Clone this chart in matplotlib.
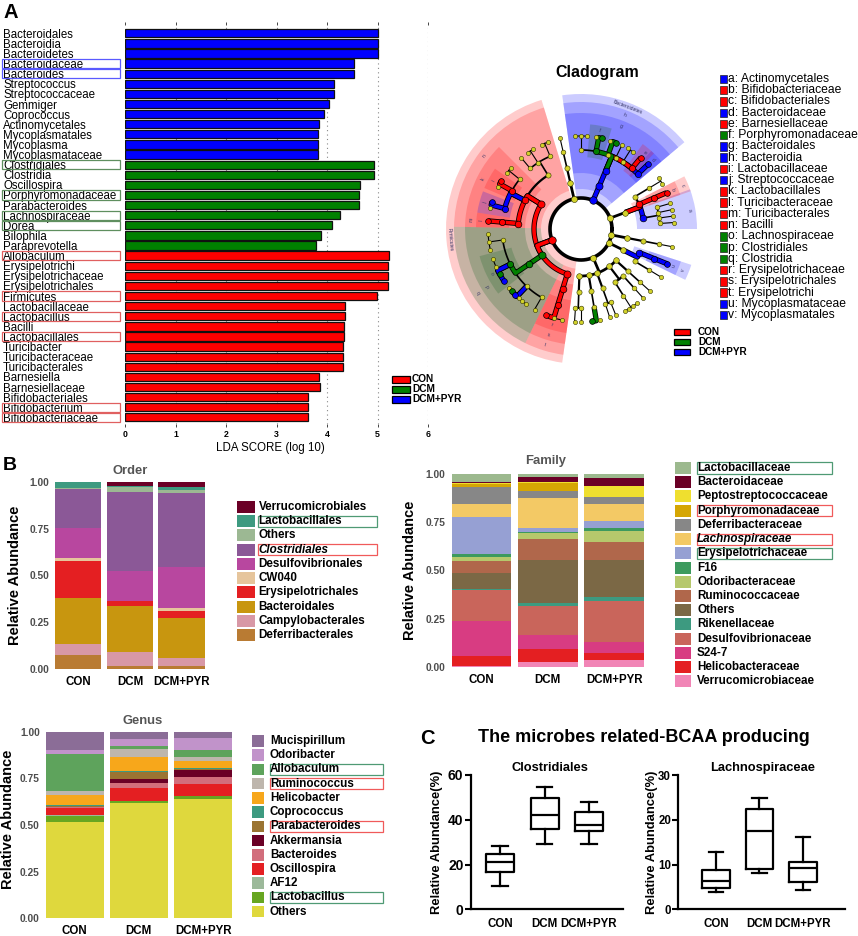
import numpy as np
import matplotlib
matplotlib.use('Agg')
import matplotlib.pyplot as plt
from matplotlib.patches import Rectangle, Wedge
import matplotlib.patheffects as pe
import matplotlib.transforms as mtransforms

plt.rcParams['font.family'] = ['Liberation Sans', 'DejaVu Sans']

W, H = 858, 936
fig = plt.figure(figsize=(W / 100, H / 100), dpi=100)

def px_axes(x0, y0, x1, y1):
    return fig.add_axes([x0 / W, 1 - y1 / H, (x1 - x0) / W, (y1 - y0) / H])

grp_color = {'CON': '#ff0000', 'DCM': '#008000', 'DCM+PYR': '#0000ff'}
groups = ['CON', 'DCM', 'DCM+PYR']

# ---------------- data: LDA ----------------
lda_names = ['Bacteroidales', 'Bacteroidia', 'Bacteroidetes', 'Bacteroidaceae', 'Bacteroides',
             'Streptococcus', 'Streptococcaceae', 'Gemmiger', 'Coprococcus', 'Actinomycetales',
             'Mycoplasmatales', 'Mycoplasma', 'Mycoplasmataceae',
             'Clostridiales', 'Clostridia', 'Oscillospira', 'Porphyromonadaceae', 'Parabacteroides',
             'Lachnospiraceae', 'Dorea', 'Bilophila', 'Paraprevotella',
             'Allobaculum', 'Erysipelotrichi', 'Erysipelotrichaceae', 'Erysipelotrichales', 'Firmicutes',
             'Lactobacillaceae', 'Lactobacillus', 'Bacilli', 'Lactobacillales', 'Turicibacter',
             'Turicibacteraceae', 'Turicibacterales', 'Barnesiella', 'Barnesiellaceae',
             'Bifidobacteriales', 'Bifidobacterium', 'Bifidobacteriaceae']
lda_scores = [5.00, 5.00, 5.00, 4.54, 4.54, 4.13, 4.14, 4.03, 3.94, 3.85, 3.82, 3.82, 3.82,
              4.94, 4.94, 4.65, 4.63, 4.63, 4.25, 4.10, 3.88, 3.78,
              5.22, 5.21, 5.21, 5.21, 4.99, 4.35, 4.35, 4.34, 4.34, 4.31, 4.31, 4.31,
              3.85, 3.86, 3.63, 3.63, 3.63]
lda_groups = ['DCM+PYR'] * 13 + ['DCM'] * 9 + ['CON'] * 17
lda_boxed = {'Bacteroidaceae': '#5a5aff', 'Bacteroides': '#5a5aff',
             'Clostridiales': '#5f8f5f', 'Porphyromonadaceae': '#5f8f5f',
             'Lachnospiraceae': '#5f8f5f', 'Dorea': '#5f8f5f',
             'Allobaculum': '#e06060', 'Firmicutes': '#e06060', 'Lactobacillus': '#e06060',
             'Lactobacillales': '#e06060', 'Bifidobacterium': '#e06060', 'Bifidobacteriaceae': '#e06060'}

# ---------------- data: cladogram (name, level, group, label, leaf angle) ----------------
clad_tree = [
    ('Bacteria', 0, None, None, None),
    ('Actinobacteria', 1, None, None, None),
    ('Actinobacteria_c', 2, None, None, None),
    ('Actinomycetales', 3, 'DCM+PYR', 'a', None),
    ('Corynebacteriaceae', 4, None, None, None), ('Corynebacterium', 5, None, None, 4),
    ('Micrococcaceae', 4, None, None, None), ('Rothia', 5, None, None, 8),
    ('Propionibacteriaceae', 4, None, None, None), ('Propionibacterium', 5, None, None, 12),
    ('Actinomycetaceae', 4, None, None, None), ('Actinomyces', 5, None, None, 16),
    ('Bifidobacteriales', 3, 'CON', 'c', None),
    ('Bifidobacteriaceae', 4, 'CON', 'b', None), ('Bifidobacterium', 5, 'CON', None, 23),
    ('Coriobacteriales', 3, None, None, None),
    ('Coriobacteriaceae', 4, None, None, None),
    ('Adlercreutzia', 5, None, None, 29), ('Collinsella', 5, None, None, 33),
    ('Bacteroidetes', 1, 'DCM+PYR', 'Bacteroidetes', None),
    ('Bacteroidia', 2, 'DCM+PYR', 'h', None),
    ('Bacteroidales', 3, 'DCM+PYR', 'g', None),
    ('Bacteroidaceae', 4, 'DCM+PYR', 'd', None), ('Bacteroides', 5, 'DCM+PYR', None, 44),
    ('Barnesiellaceae', 4, 'CON', 'e', None), ('Barnesiella', 5, 'CON', None, 50),
    ('Rikenellaceae', 4, None, None, None), ('Rikenella', 5, None, None, 56), ('Alistipes', 5, None, None, 60),
    ('S24-7', 4, None, None, None), ('S24-7 g', 5, None, None, 64),
    ('Paraprevotellaceae', 4, None, None, None), ('Paraprevotella', 5, 'DCM', None, 68),
    ('Prevotella_p', 5, None, None, 72),
    ('Porphyromonadaceae', 4, 'DCM', 'f', None), ('Parabacteroides', 5, 'DCM', None, 77),
    ('Porphyromonas', 5, None, None, 81),
    ('Prevotellaceae', 4, None, None, None), ('Prevotella', 5, None, None, 86),
    ('Prevotella_2', 5, None, None, 90), ('Prevotella_3', 5, None, None, 94),
    ('TM7', 1, None, None, None), ('TM7-3', 2, None, None, None), ('CW040', 3, None, None, None),
    ('F16', 4, None, None, None), ('F16 g', 5, None, None, 103),
    ('Firmicutes', 1, 'CON', 'Firmicutes', None),
    ('Bacilli', 2, 'CON', 'n', None),
    ('Bacillales', 3, None, None, None),
    ('Staphylococcaceae', 4, None, None, None), ('Staphylococcus', 5, None, None, 111),
    ('Jeotgalicoccus', 5, None, None, 115),
    ('Bacillaceae', 4, None, None, None), ('Bacillus', 5, None, None, 121), ('Bacillaceae g', 5, None, None, 125),
    ('Planococcaceae', 4, None, None, None), ('Planococcaceae g', 5, None, None, 130),
    ('Lactobacillales', 3, 'CON', 'k', None),
    ('Enterococcaceae', 4, None, None, None), ('Enterococcus', 5, None, None, 139),
    ('Vagococcus', 5, None, None, 143),
    ('Lactobacillaceae', 4, 'CON', 'i', None), ('Lactobacillus', 5, 'CON', None, 149),
    ('Pediococcus', 5, None, None, 153),
    ('Streptococcaceae', 4, 'DCM+PYR', 'j', None), ('Streptococcus', 5, 'DCM+PYR', None, 163),
    ('Lactococcus', 5, None, None, 167),
    ('Turicibacterales', 3, 'CON', 'm', None),
    ('Turicibacteraceae', 4, 'CON', 'l', None), ('Turicibacter', 5, 'CON', None, 175),
    ('Clostridia', 2, 'DCM', 'q', None),
    ('Clostridiales', 3, 'DCM', 'p', None),
    ('Clostridiaceae', 4, None, None, None), ('Clostridium', 5, None, None, 183),
    ('SMB53', 5, None, None, 188), ('Candidatus Arthromitus', 5, None, None, 193),
    ('Lachnospiraceae', 4, 'DCM', 'o', None), ('Blautia', 5, None, None, 199),
    ('Roseburia', 5, None, None, 204), ('Dorea', 5, 'DCM', None, 209),
    ('Coprococcus', 5, 'DCM+PYR', None, 214),
    ('Ruminococcaceae', 4, None, None, None), ('Faecalibacterium', 5, None, None, 219),
    ('Oscillospira', 5, 'DCM', None, 222), ('Gemmiger', 5, 'DCM+PYR', None, 225),
    ('Ruminococcus', 5, None, None, 228), ('Anaerotruncus', 5, None, None, 231),
    ('Butyricicoccus', 5, None, None, 234),
    ('Peptostreptococcaceae', 4, None, None, None), ('Peptostreptococcaceae g', 5, None, None, 240),
    ('Erysipelotrichi', 2, 'CON', 't', None),
    ('Erysipelotrichales', 3, 'CON', 's', None),
    ('Erysipelotrichaceae', 4, 'CON', 'r', None), ('Allobaculum', 5, 'CON', None, 248),
    ('Coprobacillus', 5, None, None, 253), ('Erysipelotrichaceae g', 5, None, None, 258),
    ('Proteobacteria', 1, None, None, None),
    ('Betaproteobacteria', 2, None, None, None), ('Burkholderiales', 3, None, None, None),
    ('Alcaligenaceae', 4, None, None, None), ('Sutterella', 5, None, None, 266),
    ('Oxalobacteraceae', 4, None, None, None), ('Oxalobacter', 5, None, None, 270),
    ('Deltaproteobacteria', 2, None, None, None), ('Desulfovibrionales', 3, None, None, None),
    ('Desulfovibrionaceae', 4, None, None, None), ('Bilophila', 5, 'DCM', None, 277),
    ('Desulfovibrio', 5, None, None, 282),
    ('Epsilonproteobacteria', 2, None, None, None), ('Campylobacterales', 3, None, None, None),
    ('Helicobacteraceae', 4, None, None, None), ('Helicobacter', 5, None, None, 288),
    ('Campylobacteraceae', 4, None, None, None), ('Campylobacter', 5, None, None, 292),
    ('Gammaproteobacteria', 2, None, None, None), ('Enterobacteriales', 3, None, None, None),
    ('Enterobacteriaceae', 4, None, None, None), ('Escherichia', 5, None, None, 298),
    ('Klebsiella', 5, None, None, 301), ('Proteus', 5, None, None, 304), ('Serratia', 5, None, None, 307),
    ('Pasteurellales', 3, None, None, None), ('Pasteurellaceae', 4, None, None, None),
    ('Haemophilus', 5, None, None, 312),
    ('Alphaproteobacteria', 2, None, None, None), ('RF32', 3, None, None, None),
    ('RF32 f', 4, None, None, None), ('RF32 g', 5, None, None, 318),
    ('Tenericutes', 1, None, None, None), ('Mollicutes', 2, None, None, None),
    ('RF39', 3, None, None, None), ('RF39 f', 4, None, None, None), ('RF39 g', 5, None, None, 329),
    ('Mycoplasmatales', 3, 'DCM+PYR', 'v', None),
    ('Mycoplasmataceae', 4, 'DCM+PYR', 'u', None), ('Mycoplasma', 5, 'DCM+PYR', None, 338),
    ('Deferribacteres', 1, None, None, None), ('Deferribacteres_c', 2, None, None, None),
    ('Deferribacterales', 3, None, None, None), ('Deferribacteraceae', 4, None, None, None),
    ('Mucispirillum', 5, None, None, 349),
]

# ---------------- data: stacked bars ----------------
order_taxa = ['Verrucomicrobiales', 'Lactobacillales', 'Others', 'Clostridiales', 'Desulfovibrionales',
              'CW040', 'Erysipelotrichales', 'Bacteroidales', 'Campylobacterales', 'Deferribacterales']
order_con = [0.000, 0.032, 0.009, 0.206, 0.162, 0.012, 0.199, 0.243, 0.061, 0.076]
order_dcm = [0.023, 0.004, 0.026, 0.425, 0.156, 0.004, 0.023, 0.245, 0.074, 0.020]
order_pyr = [0.030, 0.014, 0.015, 0.397, 0.217, 0.014, 0.038, 0.216, 0.043, 0.016]
order_colors = ['#6b0026', '#3d9a80', '#9cb893', '#8b5897', '#b8479f', '#e6c59c', '#e41f22',
                '#c8960f', '#d898a6', '#b97b33']

fam_taxa = ['Lactobacillaceae', 'Bacteroidaceae', 'Peptostreptococcaceae', 'Porphyromonadaceae',
            'Deferribacteraceae', 'Lachnospiraceae', 'Erysipelotrichaceae', 'F16', 'Odoribacteraceae',
            'Ruminococcaceae', 'Others', 'Rikenellaceae', 'Desulfovibrionaceae', 'S24-7',
            'Helicobacteraceae', 'Verrucomicrobiaceae']
fam_con = [0.038, 0.005, 0.009, 0.012, 0.090, 0.069, 0.191, 0.014, 0.024, 0.059, 0.085, 0.007,
           0.158, 0.182, 0.054, 0.003]
fam_dcm = [0.012, 0.026, 0.005, 0.042, 0.036, 0.160, 0.021, 0.005, 0.031, 0.107, 0.222, 0.016,
           0.152, 0.071, 0.071, 0.023]
fam_pyr = [0.017, 0.042, 0.057, 0.002, 0.036, 0.089, 0.036, 0.014, 0.061, 0.091, 0.193, 0.022,
           0.212, 0.055, 0.040, 0.033]
fam_colors = ['#9cb98e', '#6b0026', '#efdf2f', '#d5a603', '#878787', '#f3c965', '#96a0d3', '#3d9a5e',
              '#b6c86c', '#b0674b', '#7b6845', '#3d9a80', '#c9655b', '#d83c82', '#e41f22', '#f185b6']

gen_taxa = ['Mucispirillum', 'Odoribacter', 'Allobaculum', 'Ruminococcus', 'Helicobacter', 'Coprococcus',
            'Parabacteroides', 'Akkermansia', 'Bacteroides', 'Oscillospira', 'AF12', 'Lactobacillus', 'Others']
gen_con = [0.098, 0.022, 0.196, 0.023, 0.054, 0.003, 0.006, 0.000, 0.009, 0.037, 0.002, 0.032, 0.518]
gen_dcm = [0.039, 0.036, 0.018, 0.045, 0.071, 0.005, 0.041, 0.022, 0.027, 0.066, 0.001, 0.009, 0.620]
gen_pyr = [0.036, 0.062, 0.036, 0.023, 0.036, 0.007, 0.005, 0.040, 0.037, 0.061, 0.002, 0.016, 0.639]
gen_colors = ['#8b6d97', '#c193ca', '#5ea35c', '#beb6ad', '#f7a71b', '#3d9a80', '#9b7432', '#6b0026',
              '#d26e7c', '#e41f22', '#9cb99a', '#67a621', '#dfd83d']

green_box = '#4f9a74'
red_box = '#f05a5a'
order_boxed = {'Lactobacillales': green_box, 'Clostridiales': red_box}
fam_boxed = {'Lactobacillaceae': green_box, 'Porphyromonadaceae': red_box,
             'Lachnospiraceae': red_box, 'Erysipelotrichaceae': green_box}
gen_boxed = {'Allobaculum': green_box, 'Ruminococcus': red_box,
             'Parabacteroides': red_box, 'Lactobacillus': green_box}
italic_taxa = ['Clostridiales', 'Lachnospiraceae']

# ---------------- data: box plots (whislo, q1, med, q3, whishi) ----------------
clos_box = [[10.4, 16.7, 21.1, 24.8, 28.4],
            [29.2, 35.9, 42.1, 49.9, 54.5],
            [29.2, 35.1, 37.7, 43.5, 48.1]]
lach_box = [[3.9, 4.8, 6.3, 8.8, 12.7],
            [8.0, 8.9, 17.4, 22.5, 24.8],
            [4.3, 6.0, 9.2, 10.6, 16.2]]

# overlay axes in pixel coordinates for annotations
ov = fig.add_axes([0, 0, 1, 1])
ov.set_xlim(0, W)
ov.set_ylim(H, 0)
ov.axis('off')
ov.set_zorder(10)

# ================= A: LDA =================
ax = px_axes(125, 25, 428, 424)
yy = np.arange(len(lda_names))
ax.barh(yy, lda_scores, height=0.82, color=[grp_color[g] for g in lda_groups],
        edgecolor='#111111', linewidth=0.9, zorder=3)
for xv in range(1, 7):
    ax.axvline(xv, color='#888888', ls=(0, (1, 3)), lw=0.8, zorder=1)
ax.set_xlim(0, 6)
ax.set_ylim(38.66, -0.82)
ax.set_xticks(range(7))
ax.set_xticklabels([str(v) for v in range(7)], fontsize=6.3, fontweight='bold')
ax.set_yticks(yy)
ax.set_yticklabels(lda_names, fontsize=8.3, ha='left')
ax.tick_params(axis='y', length=0, pad=(125 - 3) * 0.72)
ax.tick_params(axis='x', length=2.5, width=0.7, pad=2, top=True, color='#444444')
for s in ax.spines.values():
    s.set_visible(False)
btr = mtransforms.blended_transform_factory(ov.transData, ax.transData)
for i, nm in enumerate(lda_names):
    if nm in lda_boxed:
        ov.add_patch(Rectangle((2, i - 0.46), 118, 0.92, transform=btr, fill=False,
                               edgecolor=lda_boxed[nm], lw=0.9))
ov.text(270, 448, 'LDA SCORE (log 10)', fontsize=8.3, ha='center', va='center')
for i, g in enumerate(groups):
    yc = 379.3 + i * 10
    ov.add_patch(Rectangle((392, yc - 3.2), 18, 6.4, facecolor=grp_color[g], edgecolor='k', lw=0.9))
    ov.text(412, yc, g, fontsize=7.3, fontweight='bold', va='center')
ov.text(4, 13, 'A', fontsize=14.5, fontweight='bold', va='center')

# ================= A: cladogram =================
nodes = []
last = {}
for name, lev, grp, lab, ang in clad_tree:
    nd = dict(name=name, lev=lev, grp=grp, lab=lab, ang=ang, kids=[], parent=None)
    if lev > 0:
        nd['parent'] = last[lev - 1]
        last[lev - 1]['kids'].append(nd)
    last[lev] = nd
    nodes.append(nd)

def layout(nd):
    if nd['kids']:
        angs = [layout(k) for k in nd['kids']]
        nd['lo'] = min(k['lo'] for k in nd['kids'])
        nd['hi'] = max(k['hi'] for k in nd['kids'])
        nd['ang'] = (min(angs) + max(angs)) / 2
    else:
        nd['lo'] = nd['hi'] = nd['ang']
    return nd['ang']

layout(nodes[0])

R = [0, 31, 47, 63, 79, 93]
EXT = {1: 135, 2: 127, 3: 116, 4: 105}
LAB_R = {1: 131, 2: 121.5, 3: 110.5, 4: 100}
shade = {'CON': ('#ff0000', 0.2), 'DCM': ('#236a2d', 0.25), 'DCM+PYR': ('#0000ff', 0.2)}

def pol(r, a):
    t = np.radians(a)
    return r * np.cos(t), r * np.sin(t)

axc = px_axes(431, 79, 731, 379)
axc.set_xlim(-150, 150)
axc.set_ylim(-150, 150)
axc.axis('off')

for nd in sorted([n for n in nodes if n['lab']], key=lambda n: n['lev']):
    lev = nd['lev']
    r_in = R[1] + 1 if lev == 1 else R[lev] - 7
    col, al = shade[nd['grp']]
    axc.add_patch(Wedge((0, 0), EXT[lev], nd['lo'] - 4, nd['hi'] + 4, width=EXT[lev] - r_in,
                        facecolor=col, alpha=al, lw=0, zorder=1))
    mid = (nd['lo'] + nd['hi']) / 2
    rot = mid - 90 if (mid % 360) <= 180 else mid + 90
    tx, ty = pol(LAB_R[lev], mid)
    axc.text(tx, ty, nd['lab'], fontsize=3.6, rotation=rot, ha='center', va='center',
             color='#333366', zorder=2)

lw_lev = [2.6, 2.0, 1.6, 1.2, 0.8]
circ = np.linspace(0, 360, 400)
axc.plot(*pol(R[1], circ), color='k', lw=lw_lev[0], zorder=3)
for nd in nodes[1:]:
    if not nd['kids']:
        continue
    lev = nd['lev']
    axc.plot(*pol(np.array([R[lev], R[lev + 1]]), nd['ang']), color='k', lw=lw_lev[lev], zorder=3)
    ka = [k['ang'] for k in nd['kids']] + [nd['ang']]
    arc = np.linspace(min(ka), max(ka), 60)
    axc.plot(*pol(R[lev + 1], arc), color='k', lw=lw_lev[lev], zorder=3, solid_capstyle='round')

for nd in nodes[1:]:
    if nd['grp'] and nd['lev'] >= 2:
        p = nd['parent']
        a0, a1 = p['ang'], nd['ang']
        rr = np.r_[R[p['lev']], np.full(30, R[nd['lev']])]
        aa = np.r_[a0, np.linspace(a0, a1, 30)]
        axc.plot(*pol(rr, aa), color=grp_color[nd['grp']], lw=2.6, zorder=4, solid_capstyle='butt',
                 path_effects=[pe.Stroke(linewidth=3.8, foreground='k'), pe.Normal()])

for nd in nodes[1:]:
    lev = nd['lev']
    x, y = pol(R[lev], nd['ang'])
    if nd['grp']:
        axc.scatter([x], [y], s=17 + (5 - lev) * 3, color=grp_color[nd['grp']],
                    edgecolors='k', linewidths=0.5, zorder=6)
    else:
        axc.scatter([x], [y], s=9 + (5 - lev) * 2.5, color='#d2d22a',
                    edgecolors='#333300', linewidths=0.4, zorder=6)

ov.text(597, 72, 'Cladogram', fontsize=11.5, fontweight='bold', ha='center', va='center')
clad_legend = sorted([(n['lab'], n['name'], n['grp']) for n in nodes if n['lab'] and len(n['lab']) == 1])
for i, (lab, name, grp) in enumerate(clad_legend):
    yc = 79 + i * 11.24
    ov.add_patch(Rectangle((719.5, yc - 4.2), 7.2, 8.4, facecolor=grp_color[grp], edgecolor='#222222', lw=0.5))
    ov.text(728.5, yc, '%s: %s' % (lab, name), fontsize=8.7, va='center')
for i, g in enumerate(groups):
    yc = 331.7 + i * 10
    ov.add_patch(Rectangle((673.5, yc - 2.8), 16.5, 5.6, facecolor=grp_color[g], edgecolor='k', lw=0.9))
    ov.text(698, yc, g, fontsize=7.2, fontweight='bold', va='center')

# ================= B: stacked bars =================
def stacked(rect, taxa, vals_by_group, colors, title, title_xy, ylab_xy,
            leg_sq, leg_x, leg_y0, boxed, box_x):
    a = px_axes(*rect)
    vals = np.column_stack(vals_by_group)
    bottom = np.zeros(3)
    for k in range(len(taxa) - 1, -1, -1):
        a.bar(range(3), vals[k], width=0.9, bottom=bottom, color=colors[k], linewidth=0)
        bottom += vals[k]
    a.set_xlim(-0.5, 2.5)
    a.set_ylim(0, 1)
    a.set_xticks(range(3))
    a.set_xticklabels(groups, fontsize=8.3, fontweight='bold')
    a.set_yticks([0, 0.25, 0.5, 0.75, 1.0])
    a.set_yticklabels(['0.00', '0.25', '0.50', '0.75', '1.00'], fontsize=7.4,
                      fontweight='bold', color='#4d4d4d')
    a.tick_params(length=0, pad=2)
    a.tick_params(axis='x', pad=5)
    for s in a.spines.values():
        s.set_visible(False)
    ov.text(title_xy[0], title_xy[1], title, fontsize=9.4, fontweight='bold', color='#555555',
            ha='center', va='center')
    ov.text(ylab_xy[0], ylab_xy[1], 'Relative Abundance', fontsize=10.5, fontweight='bold',
            rotation=90, ha='center', va='center')
    for i, t in enumerate(taxa):
        yc = leg_y0 + i * 14.22
        ov.add_patch(Rectangle((leg_sq[0], yc - leg_sq[2] / 2), leg_sq[1] - leg_sq[0], leg_sq[2],
                               facecolor=colors[i], lw=0))
        ov.text(leg_x, yc, t, fontsize=8.4, fontweight='bold', va='center',
                style='italic' if (t in italic_taxa and t in boxed) else 'normal')
        if t in boxed:
            ov.add_patch(Rectangle((box_x[0], yc - 5.6), box_x[1] - box_x[0], 11.2, fill=False,
                                   edgecolor=boxed[t], lw=0.9))
    return a

stacked((52.3, 481.7, 207.6, 669.3), order_taxa, [order_con, order_dcm, order_pyr], order_colors,
        'Order', (130, 471), (15, 575), (236.7, 255, 12), 258.5, 507, order_boxed, (258, 377))
stacked((448.2, 474.3, 647.5, 666.7), fam_taxa, [fam_con, fam_dcm, fam_pyr], fam_colors,
        'Family', (546, 461), (410, 570), (675, 691, 12), 697, 468, fam_boxed, (696.5, 832))
stacked((42.6, 731.7, 235.1, 918.3), gen_taxa, [gen_con, gen_dcm, gen_pyr], gen_colors,
        'Genus', (143, 721), (8, 819), (252.3, 263.5, 11.5), 270, 741, gen_boxed, (269.5, 383))
ov.text(3, 466, 'B', fontsize=14, fontweight='bold', va='center')

# ================= C: box plots =================
def boxes(rect, data, xlim, ylim, yticks, title, title_x, ylab_x, tick_fs):
    a = px_axes(*rect)
    stats = [dict(whislo=v[0], q1=v[1], med=v[2], q3=v[3], whishi=v[4], label=g)
             for g, v in zip(groups, data)]
    lp = dict(color='k', lw=1.6)
    a.bxp(stats, positions=[0, 1, 2], widths=0.63, showfliers=False, capwidths=0.34,
          boxprops=lp, whiskerprops=lp, capprops=lp, medianprops=lp)
    a.set_xlim(*xlim)
    a.set_ylim(*ylim)
    a.set_yticks(yticks)
    a.set_yticklabels([str(v) for v in yticks], fontsize=tick_fs, fontweight='bold')
    a.set_xticks([0, 1, 2])
    a.set_xticklabels(groups, fontsize=8.3, fontweight='bold')
    a.tick_params(axis='x', length=0, pad=6)
    a.tick_params(axis='y', length=4, width=1.5, pad=1.2)
    for s in ['top', 'right']:
        a.spines[s].set_visible(False)
    for s in ['left', 'bottom']:
        a.spines[s].set_linewidth(1.6)
    ov.text(title_x, 768, title, fontsize=9.3, fontweight='bold', ha='center', va='center')
    ov.text(ylab_x, 842, 'Relative Abundance(%)', fontsize=9.4, fontweight='bold',
            rotation=90, ha='center', va='center')

boxes((470.7, 775, 623, 909.3), clos_box, (-0.66, 2.765), (0, 60), [0, 20, 40, 60],
      'Clostridiales', 550, 437, 10)
boxes((678.3, 775, 845, 909.3), lach_box, (-0.867, 2.966), (0, 30), [0, 10, 20, 30],
      'Lachnospiraceae', 763, 652, 8.3)
ov.text(420, 738, 'C', fontsize=14.5, fontweight='bold', va='center')
ov.text(644, 738, 'The microbes related-BCAA producing', fontsize=13, fontweight='bold',
        ha='center', va='center')

fig.savefig('out.png', dpi=100)
